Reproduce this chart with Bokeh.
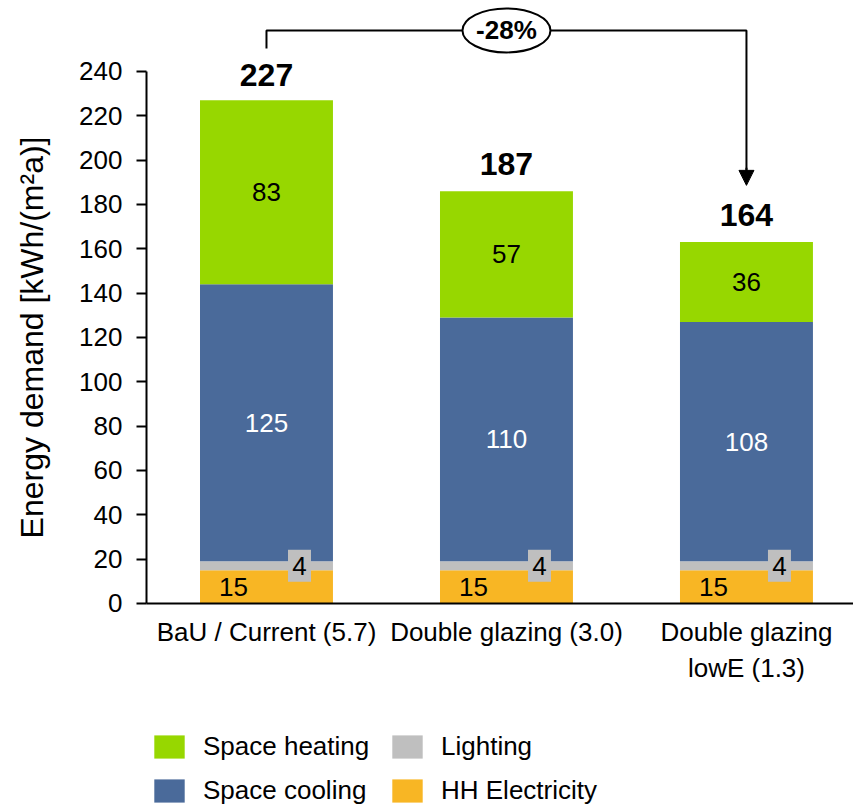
import math
from bokeh.plotting import figure
from bokeh.models import (ColumnDataSource, FixedTicker, Legend, LegendItem,
                          Arrow, NormalHead, Range1d, Label)
from bokeh.core.properties import value
from bokeh.embed import file_html
from bokeh.resources import INLINE

# Scenarios and energy demand components [kWh/(m²a)]
scenarios = ["BaU / Current (5.7)", "Double glazing (3.0)", "Double glazing\nlowE (1.3)"]
hh_electricity = [15, 15, 15]
lighting = [4, 4, 4]
space_cooling = [125, 110, 108]
space_heating = [83, 57, 36]
totals = [227, 187, 164]
y_ticks = [0, 20, 40, 60, 80, 100, 120, 140, 160, 180, 200, 220, 240]

FONT = "Liberation Sans"
C_HEAT = "#97D700"
C_COOL = "#4A6A9A"
C_LIGHT = "#BFBFBF"
C_HH = "#F8B624"

x = list(range(len(scenarios)))
src = ColumnDataSource(dict(x=x, hh=hh_electricity, light=lighting,
                            cool=space_cooling, heat=space_heating))

# the frame covers the whole canvas; both axes are pinned inside it
X0 = -0.5
p = figure(width=853, height=806, output_backend="svg", toolbar_location=None,
           x_range=Range1d(-1.1083, 2.446), y_range=Range1d(-91.6, 272.0),
           min_border_left=0, min_border_right=0, min_border_top=0,
           min_border_bottom=0)
p.outline_line_color = None
p.xgrid.visible = False
p.ygrid.visible = False
p.background_fill_color = "white"

bar_w = 0.554
rs = p.vbar_stack(["hh", "light", "cool", "heat"], x="x", width=bar_w,
                  color=[C_HH, C_LIGHT, C_COOL, C_HEAT], line_color=None,
                  source=src)

# segment labels
off = 0.1375
heat_mid = [h + l + c + s / 2 for h, l, c, s in zip(hh_electricity, lighting, space_cooling, space_heating)]
cool_mid = [h + l + c / 2 for h, l, c in zip(hh_electricity, lighting, space_cooling)]
light_mid = [h + l / 2 for h, l in zip(hh_electricity, lighting)]
hh_mid = [h / 2 for h in hh_electricity]

def labels(xs, ys, vals, color):
    p.text(x=xs, y=ys, text=[str(v) for v in vals], text_font=value(FONT),
           text_font_size="26px", text_color=color, text_align="center",
           text_baseline="middle")

labels(x, heat_mid, space_heating, "black")
labels(x, cool_mid, space_cooling, "white")
labels([i - off for i in x], hh_mid, hh_electricity, "black")
p.rect(x=[i + off for i in x], y=light_mid, width=23, height=32,
       width_units="screen", height_units="screen", fill_color=C_LIGHT,
       line_color=None)
labels([i + off for i in x], light_mid, lighting, "black")

# totals above bars
p.text(x=x, y=totals, text=[str(t) for t in totals], text_font=value(FONT),
       text_font_size="32px", text_font_style="bold", text_color="black",
       text_align="center", text_baseline="middle", y_offset=-25)

# change bracket from first to last scenario
top = max(totals) + 31.5
start_y = totals[0] + 23.4
end_y = totals[-1] + 24.6
p.line(x=[x[0], x[0], x[-1], x[-1]], y=[start_y, top, top, end_y + 4],
       line_color="black", line_width=2)
p.add_layout(Arrow(end=NormalHead(size=15, fill_color="black", line_color="black"),
                   x_start=x[-1], y_start=end_y + 8, x_end=x[-1], y_end=end_y,
                   line_color="black", line_width=2))
pct = round((totals[-1] - totals[0]) / totals[0] * 100)
mid_x = (x[0] + x[-1]) / 2
p.ellipse(x=[mid_x], y=[top], width=88, height=44, width_units="screen",
          height_units="screen", fill_color="white", line_color="black",
          line_width=2)
p.text(x=[mid_x], y=[top], text=[f"{pct}%"], text_font=value(FONT),
       text_font_size="26px", text_font_style="bold", text_color="black",
       text_align="center", text_baseline="middle")

# axes
yax = p.yaxis[0]
yax.fixed_location = X0
yax.ticker = FixedTicker(ticks=y_ticks)
yax.bounds = (y_ticks[0], y_ticks[-1])
yax.axis_line_width = 2
yax.axis_line_color = "black"
yax.major_tick_out = 10
yax.major_tick_in = 0
yax.major_tick_line_width = 2
yax.minor_tick_line_color = None
yax.major_label_text_font = FONT
yax.major_label_text_font_size = "26px"
yax.major_label_text_color = "black"
yax.major_label_standoff = 14

# y title centred on the 0–240 axis span
p.add_layout(Label(x=-0.977, y=(y_ticks[0] + y_ticks[-1]) / 2,
                   text="Energy demand [kWh/(m²a)]", angle=math.pi / 2,
                   text_font=FONT, text_font_size="32px", text_color="black",
                   text_align="center", text_baseline="alphabetic"))

xax = p.xaxis[0]
xax.fixed_location = 0
xax.ticker = FixedTicker(ticks=x)
xax.bounds = (X0, 2.446)
xax.major_label_overrides = {i: s for i, s in zip(x, scenarios)}
xax.axis_line_width = 2
xax.axis_line_color = "black"
xax.major_tick_out = 0
xax.major_tick_in = 0
xax.minor_tick_line_color = None
xax.major_label_text_font = FONT
xax.major_label_text_font_size = "26px"
xax.major_label_text_color = "black"
xax.major_label_standoff = 14

# legend (filled column by column)
items = [LegendItem(label="Space heating", renderers=[rs[3]]),
         LegendItem(label="Space cooling", renderers=[rs[2]]),
         LegendItem(label="Lighting", renderers=[rs[1]]),
         LegendItem(label="HH Electricity", renderers=[rs[0]])]
leg = Legend(items=items, ncols=2, location=(150, 0), glyph_width=38,
             glyph_height=29, label_height=29, label_width=172,
             label_standoff=15, spacing=13, padding=0, margin=0,
             border_line_color=None, background_fill_alpha=0,
             label_text_font=FONT, label_text_font_size="26px",
             label_text_color="black")
p.add_layout(leg, "center")

open("out.html", "w").write(file_html(p, INLINE))
